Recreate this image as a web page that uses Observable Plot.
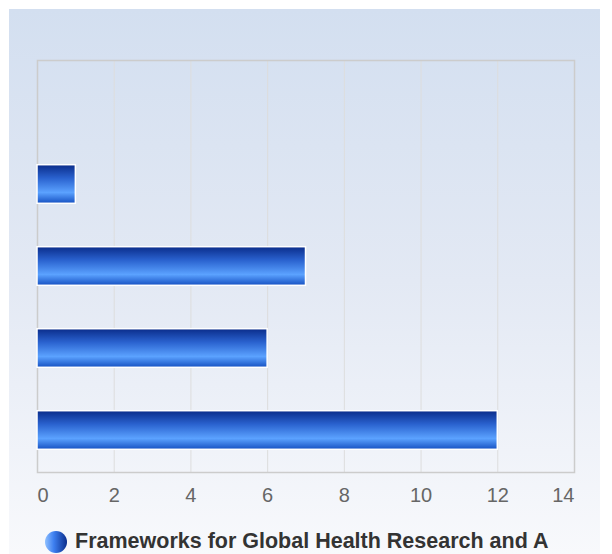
<!DOCTYPE html>
<html>
<head>
<meta charset="utf-8">
<script src="https://cdn.jsdelivr.net/npm/d3@7"></script>
<script src="https://cdn.jsdelivr.net/npm/@observablehq/plot@0.6"></script>
<style>
  html, body { margin: 0; padding: 0; background: #ffffff; }
  #wrap { position: relative; width: 612px; height: 554px; overflow: hidden; font-family: "Liberation Sans", Arial, sans-serif; }
  #panel { position: absolute; left: 9px; top: 9px; width: 591px; height: 545px;
           background: linear-gradient(to bottom, #d3dff0 0%, #e3e9f4 50%, #f8f9fc 100%); }
  #chart { position: absolute; left: 0; top: 0; }
  #legend { position: absolute; left: 45px; top: 529px; display: flex; align-items: center; }
  #legend .dot { width: 22px; height: 22px; border-radius: 50%;
                 background: linear-gradient(to right, #8fc0ff 0%, #3d7ff0 40%, #0a2d8c 100%); }
  #legend .lbl { margin-left: 8px; font-weight: bold; font-size: 21.5px; color: #333333; white-space: nowrap; }
</style>
</head>
<body>
<div id="wrap">
  <div id="panel"></div>
  <div id="chart"></div>
  <div id="legend"><div class="dot"></div><div class="lbl" id="lbl"></div></div>
</div>
<script>
const categories = ["Cat 0", "Cat 1", "Cat 2", "Cat 3", "Cat 4"];
const values = [null, 1, 7, 6, 12];
const seriesName = "Frameworks for Global Health Research and A";
const xTicks = [0, 2, 4, 6, 8, 10, 12, 14];

const data = categories.map((c, i) => ({cat: c, value: values[i]})).filter(d => d.value != null);

const chart = Plot.plot({
  width: 612,
  height: 510,
  marginLeft: 37,
  marginRight: 38,
  marginTop: 60,
  marginBottom: 38,
  style: {background: "transparent", fontFamily: "Liberation Sans, Arial, sans-serif", fontSize: "20px", color: "#666666"},
  x: {domain: [0, 14], ticks: xTicks, tickSize: 0, tickPadding: 15, label: null},
  y: {domain: categories, padding: 0, axis: null},
  marks: [
    Plot.gridX(xTicks, {stroke: "#dddddd", strokeOpacity: 1, strokeWidth: 1}),
    Plot.frame({stroke: "#cccccc", strokeWidth: 1.5}),
    Plot.barX(data, {x: "value", y: "cat", fill: "url(#barGrad)", stroke: "#ffffff", strokeWidth: 1.5, insetTop: 21.7, insetBottom: 21.7})
  ]
});

const svg = d3.select(chart);
const defs = svg.insert("defs", ":first-child");
const g = defs.append("linearGradient").attr("id", "barGrad").attr("x1", 0).attr("y1", 0).attr("x2", 0).attr("y2", 1);
[[0, "#0a2c8a"], [0.35, "#2a62cf"], [0.72, "#5ba2ff"], [1, "#1550c2"]].forEach(([o, c]) => g.append("stop").attr("offset", o).attr("stop-color", c));
const tickTexts = svg.selectAll("g[aria-label='x-axis tick label'] text").attr("fill", "#666666");
const n = tickTexts.size();
tickTexts.each(function(d, i) {
  if (i === 0) d3.select(this).attr("text-anchor", "start");
  if (i === n - 1) d3.select(this).attr("text-anchor", "end");
});

document.getElementById("chart").appendChild(chart);
document.getElementById("lbl").textContent = seriesName;
</script>
</body>
</html>
